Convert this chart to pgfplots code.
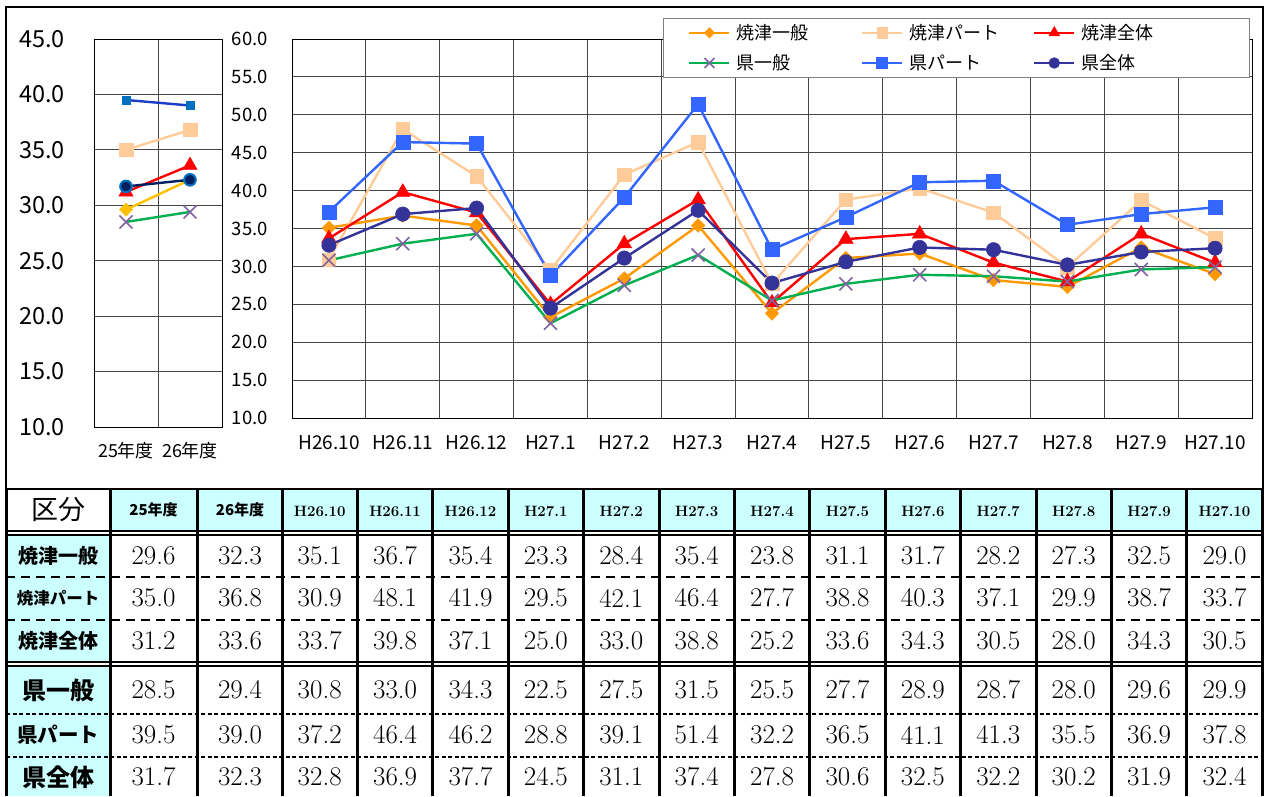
\documentclass[border=0pt]{standalone}
\usepackage{fontspec}
\setmainfont{Noto Sans CJK JP}
\newfontfamily\lmr{Latin Modern Roman}
\usepackage{pgfplots}
\usepackage{pgfplotstable}
\pgfplotsset{compat=1.18}

\definecolor{cOrange}{HTML}{FF9900}
\definecolor{cPeach}{HTML}{FFCC99}
\definecolor{cRed}{HTML}{FF0000}
\definecolor{cGreen}{HTML}{00B050}
\definecolor{cPurple}{HTML}{8064A2}
\definecolor{cBlue}{HTML}{3366FF}
\definecolor{cNavy}{HTML}{333399}
\definecolor{cGold}{HTML}{FFC000}
\definecolor{cDkBlue}{HTML}{1A3CC8}
\definecolor{cMidBlue}{HTML}{0070C0}
\definecolor{cNavyDk}{HTML}{002060}
\definecolor{gridc}{HTML}{464646}
\definecolor{cyanc}{HTML}{CCFFFF}

\pgfplotstableread{
x yg yp yz kg kp kz
0 29.6 35.0 31.2 28.5 39.5 31.7
1 32.3 36.8 33.6 29.4 39.0 32.3
}\yr

\pgfplotstableread{
x yg yp yz kg kp kz
0 35.1 30.9 33.7 30.8 37.2 32.8
1 36.7 48.1 39.8 33.0 46.4 36.9
2 35.4 41.9 37.1 34.3 46.2 37.7
3 23.3 29.5 25.0 22.5 28.8 24.5
4 28.4 42.1 33.0 27.5 39.1 31.1
5 35.4 46.4 38.8 31.5 51.4 37.4
6 23.8 27.7 25.2 25.5 32.2 27.8
7 31.1 38.8 33.6 27.7 36.5 30.6
8 31.7 40.3 34.3 28.9 41.1 32.5
9 28.2 37.1 30.5 28.7 41.3 32.2
10 27.3 29.9 28.0 28.0 35.5 30.2
11 32.5 38.7 34.3 29.6 36.9 31.9
12 29.0 33.7 30.5 29.9 37.8 32.4
}\mon

\pgfplotsset{
  base/.style={scale only axis, anchor=south west, clip=false,
    axis line style={black, line width=1pt},
    tick style={draw=none},
    ymajorgrids, xminorgrids,
    major grid style={color=gridc, line width=0.9pt},
    minor grid style={color=gridc, line width=0.9pt}},
}

\begin{document}
\begin{tikzpicture}
\useasboundingbox (0pt,0pt) rectangle (1269pt,-796pt);

% ---------- left (yearly) axis ----------
\begin{axis}[base, at={(94pt,-427pt)}, width=128pt, height=388pt,
  xmin=-0.5, xmax=1.5, ymin=10, ymax=45,
  xtick={0,1}, xticklabels={25年度,26年度}, minor xtick={0.5},
  ytick={10,15,...,45}, yticklabels={10.0,15.0,20.0,25.0,30.0,35.0,40.0,45.0},
  xticklabel style={font=\fontsize{18}{18}\selectfont, inner sep=0pt, anchor=north, yshift=-15pt},
  yticklabel style={font=\fontsize{23.5}{23.5}\selectfont, inner sep=0pt, anchor=east, xshift=-29pt}]
\addplot[color=cGold, line width=2.4pt, mark=square*, mark size=4.6pt, mark options={rotate=45, fill=cGold, draw=cGold, line width=0.5pt}] table[x=x,y=yg]{\yr};
\addplot[color=cPeach, line width=2.4pt, mark=square*, mark size=6.8pt, mark options={fill=cPeach, draw=cPeach, line width=0.5pt}] table[x=x,y=yp]{\yr};
\addplot[color=cRed, line width=2.4pt, mark=triangle*, mark size=8.2pt, mark options={fill=cRed, draw=cRed, line width=0.5pt}] table[x=x,y=yz]{\yr};
\addplot[color=cGreen, line width=2.4pt, mark=x, mark size=9.2pt, mark options={draw=cPurple, line width=1.6pt}] table[x=x,y=kg]{\yr};
\addplot[color=cDkBlue, line width=2.4pt, mark=square*, mark size=4.2pt, mark options={fill=cMidBlue, draw=cMidBlue, line width=0.5pt}] table[x=x,y=kp]{\yr};
\addplot[color=cNavyDk, line width=2.4pt, mark=*, mark size=5.8pt, mark options={fill=cNavyDk, draw=cMidBlue, line width=2pt}] table[x=x,y=kz]{\yr};
\end{axis}

% ---------- main (monthly) axis ----------
\begin{axis}[base, at={(292pt,-418pt)}, width=960pt, height=379pt,
  xmin=-0.5, xmax=12.5, ymin=10, ymax=60,
  xtick={0,...,12},
  xticklabels={H26.10,H26.11,H26.12,H27.1,H27.2,H27.3,H27.4,H27.5,H27.6,H27.7,H27.8,H27.9,H27.10},
  minor xtick={0.5,1.5,...,11.5},
  ytick={10,15,...,60}, yticklabels={10.0,15.0,20.0,25.0,30.0,35.0,40.0,45.0,50.0,55.0,60.0},
  xticklabel style={font=\fontsize{19}{19}\selectfont, inner sep=0pt, anchor=north, yshift=-17pt},
  yticklabel style={font=\fontsize{18.5}{18.5}\selectfont, inner sep=0pt, anchor=east, xshift=-24pt},
  legend columns=3,
  legend cell align=left,
  legend image code/.code={\draw[mark repeat=2,mark phase=2,/tikz/every mark/.append style={scale=0.75}] plot coordinates {(0pt,0pt)(20pt,0pt)(40pt,0pt)};},
  legend style={at={(axis description cs:0.9979,1.0554)}, anchor=north east,
    draw=gray, line width=1pt, fill=white,
    font=\fontsize{18}{18}\selectfont,
    inner xsep=25pt, inner ysep=6pt, row sep=13.5pt, column sep=0pt,
    nodes={inner sep=0pt},
    /tikz/every odd column/.append style={column sep=6pt}},
  legend entries={\makebox[124pt][l]{焼津一般},\makebox[124pt][l]{焼津パート},\makebox[143pt][l]{焼津全体},
                  \makebox[124pt][l]{県一般},\makebox[124pt][l]{県パート},\makebox[143pt][l]{県全体}}]
\addplot[color=cOrange, line width=2.4pt, mark=square*, mark size=4.8pt, mark options={rotate=45, fill=cOrange, draw=cOrange, line width=0.5pt}] table[x=x,y=yg]{\mon};
\addplot[color=cPeach, line width=2.4pt, mark=square*, mark size=6.8pt, mark options={fill=cPeach, draw=cPeach, line width=0.5pt}] table[x=x,y=yp]{\mon};
\addplot[color=cRed, line width=2.4pt, mark=triangle*, mark size=8.4pt, mark options={fill=cRed, draw=cRed, line width=0.5pt}] table[x=x,y=yz]{\mon};
\addplot[color=cGreen, line width=2.4pt, mark=x, mark size=9.2pt, mark options={draw=cPurple, line width=1.6pt}] table[x=x,y=kg]{\mon};
\addplot[color=cBlue, line width=2.4pt, mark=square*, mark size=7pt, mark options={fill=cBlue, draw=cBlue, line width=0.5pt}] table[x=x,y=kp]{\mon};
\addplot[color=cNavy, line width=2.4pt, mark=*, mark size=7.2pt, mark options={fill=cNavy, draw=cNavy, line width=0.5pt}] table[x=x,y=kz]{\mon};
\end{axis}

% ---------- frame and table ----------
\begin{scope}[x=1pt,y=-1pt]
\draw[line width=2pt] (6,7) rectangle (1263,489);
\fill[cyanc] (110,489) rectangle (1263,531);
\fill[cyanc] (6,535) rectangle (110,662);
\fill[cyanc] (6,666) rectangle (110,796);
\draw[line width=1.5pt] (6,531) -- (1263,531);
\draw[line width=1.5pt] (6,535) -- (1263,535);
\draw[line width=1.5pt] (6,662) -- (1263,662);
\draw[line width=1.5pt] (6,666) -- (1263,666);
\draw[line width=2.5pt, dash pattern=on 9pt off 6pt] (6,577) -- (1263,577);
\draw[line width=2.5pt, dash pattern=on 9pt off 6pt] (6,620) -- (1263,620);
\draw[line width=1.5pt, dash pattern=on 4pt off 2.5pt] (6,714) -- (1263,714);
\draw[line width=1.5pt, dash pattern=on 4pt off 2.5pt] (6,757) -- (1263,757);
\foreach \xx in {6,110,197,282} \draw[line width=3pt] (\xx,489) -- (\xx,796);
\foreach \k in {1,...,13} \draw[line width=3pt] ({282+75.4*\k},489) -- ({282+75.4*\k},796);
\draw[line width=2pt] (6,489) -- (1263,489);

\node[font=\fontsize{27}{27}\selectfont] at (58,510) {区分};
\node[font=\bfseries\fontsize{15}{15}\selectfont] at (153.5,510) {25年度};
\node[font=\bfseries\fontsize{15}{15}\selectfont] at (240,510) {26年度};
\foreach \lab [count=\i from 0] in {H26.10,H26.11,H26.12,H27.1,H27.2,H27.3,H27.4,H27.5,H27.6,H27.7,H27.8,H27.9,H27.10}
  \node[font=\lmr\bfseries\fontsize{15}{15}\selectfont] at ({282+75.4*(\i+0.5)},511) {\lab};

\node[font=\bfseries\fontsize{20}{20}\selectfont] at (58,556) {焼津一般};
\node[font=\bfseries\fontsize{16.5}{16.5}\selectfont] at (58,598) {焼津パート};
\node[font=\bfseries\fontsize{20}{20}\selectfont] at (58,641) {焼津全体};
\node[font=\bfseries\fontsize{24}{24}\selectfont] at (58,690) {県一般};
\node[font=\bfseries\fontsize{20.5}{20.5}\selectfont] at (58,735) {県パート};
\node[font=\bfseries\fontsize{24}{24}\selectfont] at (58,777) {県全体};

\foreach \col/\yy in {yg/556,yp/598,yz/641,kg/690,kp/735,kz/777}{
  \foreach \i in {0,...,12}{
    \pgfplotstablegetelem{\i}{\col}\of\mon
    \node[font=\lmr\fontsize{27}{27}\selectfont] at ({282+75.4*(\i+0.5)},\yy) {\pgfplotsretval};
  }
  \foreach \i/\xx in {0/153.5,1/240}{
    \pgfplotstablegetelem{\i}{\col}\of\yr
    \node[font=\lmr\fontsize{27}{27}\selectfont] at (\xx,\yy) {\pgfplotsretval};
  }
}
\end{scope}
\end{tikzpicture}
\end{document}
